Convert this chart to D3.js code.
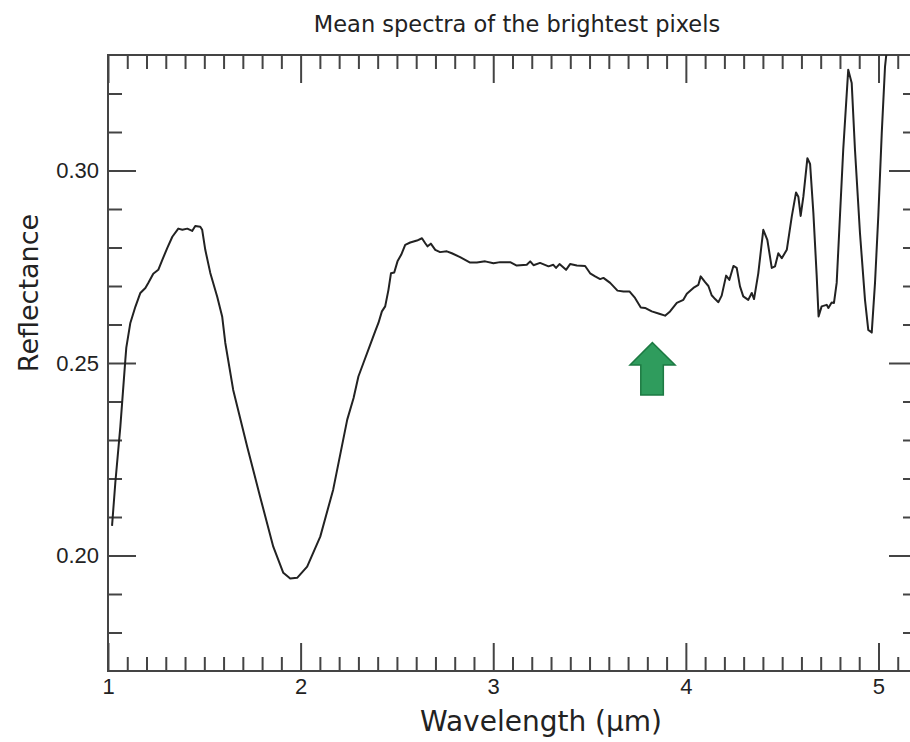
<!DOCTYPE html>
<html>
<head>
<meta charset="utf-8">
<title>Mean spectra of the brightest pixels</title>
<script src="https://d3js.org/d3.v7.min.js"></script>
<style>
html, body { margin: 0; padding: 0; background: #fff; }
svg { display: block; font-family: "DejaVu Sans", sans-serif; }
.tick text { font-size: 22px; fill: #222; }
.tick line { stroke: #444; stroke-width: 2; }
</style>
</head>
<body>
<script>
// wavelength (µm) and mean reflectance
const wavelength = [1.021, 1.038, 1.064, 1.090, 1.095, 1.116, 1.142, 1.168, 1.194, 1.209,
  1.235, 1.261, 1.282, 1.308, 1.334, 1.365, 1.386, 1.412, 1.437, 1.453,
  1.479, 1.489, 1.505, 1.531, 1.567, 1.593, 1.609, 1.650, 1.723, 1.790,
  1.858, 1.910, 1.946, 1.982, 2.034, 2.102, 2.169, 2.242, 2.275, 2.300,
  2.326, 2.361, 2.387, 2.404, 2.422, 2.439, 2.456, 2.469, 2.486, 2.503,
  2.522, 2.543, 2.569, 2.604, 2.630, 2.647, 2.659, 2.676, 2.699, 2.724,
  2.759, 2.785, 2.828, 2.880, 2.915, 2.958, 3.001, 3.036, 3.088, 3.122,
  3.174, 3.192, 3.209, 3.243, 3.287, 3.312, 3.326, 3.344, 3.378, 3.399,
  3.434, 3.477, 3.503, 3.529, 3.555, 3.572, 3.607, 3.645, 3.676, 3.707,
  3.736, 3.766, 3.788, 3.823, 3.862, 3.892, 3.918, 3.953, 3.987, 4.005,
  4.039, 4.065, 4.077, 4.100, 4.117, 4.134, 4.152, 4.169, 4.186, 4.209,
  4.226, 4.247, 4.264, 4.281, 4.298, 4.324, 4.342, 4.354, 4.376, 4.402,
  4.423, 4.446, 4.463, 4.480, 4.498, 4.524, 4.550, 4.572, 4.584, 4.596,
  4.610, 4.631, 4.645, 4.662, 4.679, 4.689, 4.705, 4.731, 4.740, 4.757,
  4.769, 4.783, 4.800, 4.817, 4.843, 4.861, 4.878, 4.904, 4.930, 4.947,
  4.965, 4.982, 4.999, 5.017, 5.034, 5.049];
const reflectance = [0.2077, 0.2189, 0.2334, 0.2508, 0.2540, 0.2604, 0.2646, 0.2682, 0.2695, 0.2708,
  0.2732, 0.2742, 0.2768, 0.2799, 0.2828, 0.2849, 0.2846, 0.2849, 0.2843, 0.2856,
  0.2854, 0.2846, 0.2794, 0.2734, 0.2672, 0.2620, 0.2552, 0.2430, 0.2282, 0.2152,
  0.2023, 0.1955, 0.1940, 0.1942, 0.1971, 0.2049, 0.2171, 0.2353, 0.2409, 0.2465,
  0.2500, 0.2547, 0.2582, 0.2604, 0.2634, 0.2647, 0.2690, 0.2733, 0.2735, 0.2764,
  0.2781, 0.2807, 0.2813, 0.2818, 0.2824, 0.2811, 0.2803, 0.2810, 0.2794, 0.2788,
  0.2790, 0.2785, 0.2775, 0.2761, 0.2761, 0.2764, 0.2759, 0.2762, 0.2762, 0.2753,
  0.2755, 0.2764, 0.2754, 0.2760, 0.2751, 0.2755, 0.2747, 0.2757, 0.2742, 0.2757,
  0.2753, 0.2752, 0.2733, 0.2725, 0.2718, 0.2721, 0.2708, 0.2688, 0.2686, 0.2686,
  0.2669, 0.2644, 0.2643, 0.2634, 0.2628, 0.2623, 0.2634, 0.2656, 0.2664, 0.2680,
  0.2695, 0.2703, 0.2725, 0.2710, 0.2700, 0.2676, 0.2666, 0.2658, 0.2675, 0.2727,
  0.2716, 0.2752, 0.2747, 0.2699, 0.2673, 0.2664, 0.2682, 0.2666, 0.2733, 0.2846,
  0.2820, 0.2747, 0.2751, 0.2785, 0.2772, 0.2794, 0.2881, 0.2943, 0.2932, 0.2882,
  0.2932, 0.3032, 0.3017, 0.2890, 0.2729, 0.2621, 0.2647, 0.2651, 0.2643, 0.2657,
  0.2656, 0.2708, 0.2881, 0.3054, 0.3262, 0.3227, 0.3054, 0.2837, 0.2664, 0.2586,
  0.2579, 0.2708, 0.2881, 0.3097, 0.3270, 0.3340];

const xMajorTicks = [1, 2, 3, 4, 5];
const xMinorTicks = [1.1, 1.2, 1.3, 1.4, 1.5, 1.6, 1.7, 1.8, 1.9,
  2.1, 2.2, 2.3, 2.4, 2.5, 2.6, 2.7, 2.8, 2.9,
  3.1, 3.2, 3.3, 3.4, 3.5, 3.6, 3.7, 3.8, 3.9,
  4.1, 4.2, 4.3, 4.4, 4.5, 4.6, 4.7, 4.8, 4.9, 5.1];
const yMajorTicks = [0.20, 0.25, 0.30];
const yMinorTicks = [0.18, 0.19, 0.21, 0.22, 0.23, 0.24, 0.26, 0.27, 0.28, 0.29, 0.31, 0.32];

// green arrow pointing at the 3.8 µm dip: [wavelength, reflectance]
const arrowShape = [[3.826, 0.2553], [3.944, 0.2495], [3.883, 0.2495], [3.883, 0.2417],
  [3.766, 0.2417], [3.766, 0.2495], [3.710, 0.2495]];

const width = 910, height = 742;
const margin = {top: 55, right: -7, bottom: 71, left: 108};

const spectrum = wavelength.map((w, i) => ({w: w, r: reflectance[i]}));

const svg = d3.select('body').append('svg').attr('width', width).attr('height', height);

const x = d3.scaleLinear().domain([1, 5.2]).range([margin.left, width - margin.right]);
const y = d3.scaleLinear().domain([0.17, 0.33]).range([height - margin.bottom, margin.top]);

const plotW = x.range()[1] - x.range()[0];
const plotH = y.range()[0] - y.range()[1];

svg.append('clipPath').attr('id', 'plot-clip')
  .append('rect').attr('x', margin.left).attr('y', margin.top).attr('width', plotW).attr('height', plotH);

function axisGroup(axis, tx, ty) {
  const g = svg.append('g').attr('transform', 'translate(' + tx + ',' + ty + ')').call(axis);
  g.select('.domain').remove();
  return g;
}

// bottom and top (ticks pointing inward)
axisGroup(d3.axisBottom(x).tickValues(xMajorTicks).tickSize(-28).tickPadding(7).tickFormat(d3.format('d')), 0, y.range()[0]);
axisGroup(d3.axisBottom(x).tickValues(xMinorTicks).tickSize(-14).tickFormat(''), 0, y.range()[0]);
axisGroup(d3.axisTop(x).tickValues(xMajorTicks).tickSize(-28).tickFormat(''), 0, margin.top);
axisGroup(d3.axisTop(x).tickValues(xMinorTicks).tickSize(-14).tickFormat(''), 0, margin.top);

// left and right
axisGroup(d3.axisLeft(y).tickValues(yMajorTicks).tickSize(-28).tickPadding(9).tickFormat(d3.format('.2f')), margin.left, 0);
axisGroup(d3.axisLeft(y).tickValues(yMinorTicks).tickSize(-14).tickFormat(''), margin.left, 0);
axisGroup(d3.axisRight(y).tickValues(yMajorTicks).tickSize(-28).tickFormat(''), x.range()[1], 0);
axisGroup(d3.axisRight(y).tickValues(yMinorTicks).tickSize(-14).tickFormat(''), x.range()[1], 0);

// frame
svg.append('rect')
  .attr('x', margin.left).attr('y', margin.top).attr('width', plotW).attr('height', plotH)
  .attr('fill', 'none').attr('stroke', '#444').attr('stroke-width', 2);

const line = d3.line().x(d => x(d.w)).y(d => y(d.r));

svg.append('path')
  .datum(spectrum)
  .attr('clip-path', 'url(#plot-clip)')
  .attr('d', line)
  .attr('fill', 'none')
  .attr('stroke', '#222')
  .attr('stroke-width', 2)
  .attr('stroke-linejoin', 'round');

svg.append('polygon')
  .attr('points', arrowShape.map(p => x(p[0]) + ',' + y(p[1])).join(' '))
  .attr('fill', '#2f9c5d')
  .attr('stroke', '#1d7a43')
  .attr('stroke-width', 1.5)
  .attr('stroke-linejoin', 'miter');

svg.append('text')
  .attr('x', 517).attr('y', 32)
  .attr('text-anchor', 'middle')
  .style('font-size', '22.5px').attr('fill', '#222')
  .text('Mean spectra of the brightest pixels');

svg.append('text')
  .attr('x', 541).attr('y', 731)
  .attr('text-anchor', 'middle')
  .style('font-size', '28px').attr('fill', '#222')
  .text('Wavelength (µm)');

svg.append('text')
  .attr('transform', 'translate(38,293) rotate(-90)')
  .attr('text-anchor', 'middle')
  .style('font-size', '27px').attr('fill', '#222')
  .text('Reflectance');
</script>
</body>
</html>
